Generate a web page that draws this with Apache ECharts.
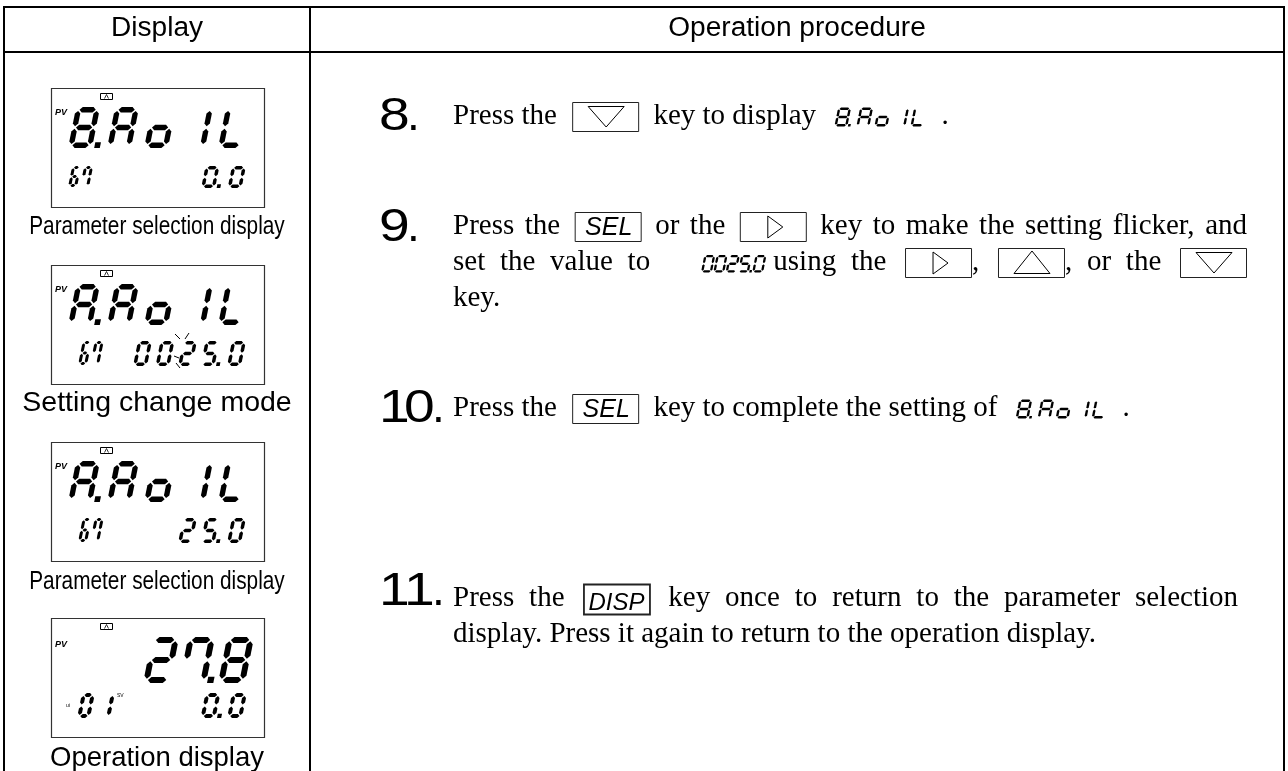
<!DOCTYPE html>
<html>
<head>
<meta charset="utf-8">
<title>Operation procedure</title>
<script src="https://cdn.jsdelivr.net/npm/echarts@6.0.0/dist/echarts.min.js"></script>
<style>
html,body{margin:0;padding:0;background:#fff;}
#main{width:1288px;height:771px;}
</style>
</head>
<body>
<div id="main"></div>
<script>
// ---------------- content ----------------
const headerLabels = ['Display', 'Operation procedure'];
const captionLabels = ['Parameter selection display', 'Setting change mode', 'Parameter selection display', 'Operation display'];
const lcdMainText = ['8.Ao1L', 'A.Ao1L', 'A.Ao1L', '27.8'];
const lcdSubText = ['67', '67', '67', '01'];
const lcdValueText = ['0.0', '0025.0', '25.0', '0.0'];
const stepNumbers = ['8.', '9.', '10.', '11.'];
const step8Lines = ['Press the [down] key to display <8.Ao1L> .'];
const step9Lines = ['Press the [SEL] or the [right] key to make the setting flicker, and',
                    'set the value to <0025.0> using the [right], [up], or the [down]',
                    'key.'];
const step10Lines = ['Press the [SEL] key to complete the setting of <8.Ao1L> .'];
const step11Lines = ['Press the [DISP] key once to return to the parameter selection',
                     'display. Press it again to return to the operation display.'];
const stepLines = [step8Lines, step9Lines, step10Lines, step11Lines];

// ---------------- layout / style ----------------
const SERIF = "'Liberation Serif', 'Times New Roman', serif";
const SANS = "'Liberation Sans', Arial, Helvetica, sans-serif";
const FS = 29;
const BLACK = '#000';
const G = [];

const mctx = document.createElement('canvas').getContext('2d');
function measure(s, size, family, italic) {
  mctx.font = (italic ? 'italic ' : '') + size + 'px ' + family;
  return mctx.measureText(s).width;
}
function addLine(x1, y1, x2, y2, lw, color) {
  G.push({ type: 'line', silent: true, shape: { x1, y1, x2, y2 }, style: { stroke: color || BLACK, lineWidth: lw || 1 } });
}
function addRect(x, y, w, h, lw, color) {
  G.push({ type: 'rect', silent: true, shape: { x, y, width: w, height: h }, style: { fill: null, stroke: color || BLACK, lineWidth: lw || 1 } });
}
function addPoly(points, fill) {
  G.push({ type: 'polygon', silent: true, shape: { points }, style: { fill: fill || BLACK } });
}
function addOutline(points, lw) {
  G.push({ type: 'polygon', silent: true, shape: { points }, style: { fill: null, stroke: BLACK, lineWidth: lw || 1 } });
}
function addText(s, x, baseline, size, family, opt) {
  opt = opt || {};
  const al = opt.align || 'left';
  G.push({
    type: 'text', silent: true, x: x, y: baseline - 0.31 * size, scaleX: opt.scaleX || 1, scaleY: 1,
    style: {
      text: s, x: 0, y: 0, fontSize: size, fontFamily: family,
      fontStyle: opt.italic ? 'italic' : 'normal', fontWeight: opt.bold ? 'bold' : 'normal',
      fill: opt.color || BLACK, textAlign: al, align: al, textVerticalAlign: 'middle', verticalAlign: 'middle'
    }
  });
}

// ---------------- seven segment renderer ----------------
const SEGMAP = { '0': 'abcdef', '1': 'bc', '2': 'abdeg', '5': 'acdfg', '6': 'acdefg', '7': 'abcf', '8': 'abcdefg', 'A': 'abcefg', 'o': 'cdeg', 'L': 'def' };
function segPolys(w, h, t) {
  const g = t * 0.22, L = t / 2, R = w - t / 2, T = t / 2, M = h / 2, B = h - t / 2, q = t / 2;
  const hs = (y, x1, x2) => [[x1, y], [x1 + q, y - q], [x2 - q, y - q], [x2, y], [x2 - q, y + q], [x1 + q, y + q]];
  const vs = (x, y1, y2) => [[x, y1], [x + q, y1 + q], [x + q, y2 - q], [x, y2], [x - q, y2 - q], [x - q, y1 + q]];
  return { a: hs(T, L + g, R - g), b: vs(R, T + g, M - g), c: vs(R, M + g, B - g), d: hs(B, L + g, R - g),
           e: vs(L, M + g, B - g), f: vs(L, T + g, M - g), g: hs(M, L + g, R - g) };
}
function drawLcd(str, o) {
  const segs = segPolys(o.w, o.h, o.t);
  const sl = o.sl == null ? 0.2 : o.sl;
  const tf = (cx, pts) => pts.map(([px, py]) => [cx + px + sl * (o.h - py), o.top + py]);
  let cx = o.x, prev = null;
  for (const ch of str) {
    if (ch === '.') {
      if (prev !== null) {
        const ds = o.t * 1.05, px = o.w + (o.dg != null ? o.dg : o.t * 0.4);
        addPoly(tf(prev, [[px, o.h - ds], [px + ds, o.h - ds], [px + ds, o.h], [px, o.h]]));
      }
      cx += o.dx || 0;
      continue;
    }
    const map = SEGMAP[ch] || '';
    for (const s of map) addPoly(tf(cx, segs[s]));
    prev = cx; cx += o.p;
  }
}
function lcdWidth(str, o) {
  let n = 0, d = 0;
  for (const ch of str) { if (ch === '.') d += (o.dx || 0); else n++; }
  return (n - 1) * o.p + d + o.w + (o.sl == null ? 0.2 : o.sl) * o.h;
}

// ---------------- table frame ----------------
addLine(3, 7, 1285, 7, 2);
addLine(3, 52, 1285, 52, 2);
addLine(4, 6, 4, 771, 2);
addLine(310, 6, 310, 771, 2);
addLine(1284, 6, 1284, 771, 2);
addText(headerLabels[0], 157, 37, 27, SANS, { align: 'center', scaleX: 1.04 });
addText(headerLabels[1], 797, 37, 27, SANS, { align: 'center', scaleX: 1.04 });

// ---------------- LCD panels ----------------
const panelTops = [88, 265, 442, 618];
function iconA(x, y) {
  addRect(x + 0.5, y + 0.5, 12, 6, 1);
  G.push({ type: 'polyline', silent: true, shape: { points: [[x + 4.5, y + 5.5], [x + 6.5, y + 1.5], [x + 8.5, y + 5.5]] }, style: { stroke: BLACK, lineWidth: 0.8, fill: null } });
}
panelTops.forEach((top, i) => {
  addRect(51.5, top + 0.5, 213, 119, 1.2, '#333');
  iconA(100, top + 5);
  if (i < 3) {
    addText('PV', 55, top + 27, 9, SANS, { italic: true, bold: true });
    const bigTop = top + 19, bigH = 41;
    drawLcd(lcdMainText[i], { x: 68, top: bigTop, h: bigH, w: 24, p: 37, t: 5.4, sl: 0.2, dx: 2 });
    const subTop = i === 0 ? top + 78 : top + 76;
    const subH = i === 0 ? 21 : 24;
    drawLcd(lcdSubText[i], { x: i === 0 ? 68 : 78, top: subTop, h: subH, w: 9, p: 12, t: 3, sl: 0.2 });
    const vo = { h: subH + 1, w: 14, p: 22.5, t: 3.5, sl: 0.2, dx: 4, dg: 1.5 };
    const vw = lcdWidth(lcdValueText[i], vo);
    drawLcd(lcdValueText[i], Object.assign({}, vo, { x: 246 - vw, top: subTop }));
  } else {
    addText('PV', 55, top + 29, 9, SANS, { italic: true, bold: true });
    drawLcd(lcdMainText[i], { x: 143, top: top + 19, h: 46, w: 27, p: 36, t: 6, sl: 0.2, dx: 3, dg: 1 });
    addText('ui', 66, top + 89, 5, SANS, {});
    addText('SV', 117, top + 79, 5, SANS, {});
    drawLcd(lcdSubText[i], { x: 77, top: top + 75, h: 25, w: 13, p: 20, t: 4, sl: 0.2 });
    const vo = { h: 25, w: 15, p: 22.5, t: 4, sl: 0.2, dx: 4, dg: 1.5 };
    const vw = lcdWidth(lcdValueText[i], vo);
    drawLcd(lcdValueText[i], Object.assign({}, vo, { x: 247 - vw, top: top + 75 }));
  }
});
// flicker marks around the edited digit (panel 2)
[[175, 334, 180, 339], [189, 333, 185, 339], [174, 356, 179, 358], [176, 363, 180, 368]].forEach(s => addLine(s[0], s[1], s[2], s[3], 1));

// captions
addText(captionLabels[0], 157, 235, 26, SANS, { align: 'center', scaleX: 0.8 });
addText(captionLabels[1], 157, 412, 28.5, SANS, { align: 'center' });
addText(captionLabels[2], 157, 590, 26, SANS, { align: 'center', scaleX: 0.8 });
addText(captionLabels[3], 157, 767, 27.5, SANS, { align: 'center' });

// ---------------- procedure column ----------------
const KEY_W = 66, KEY_H = 29;
function drawKey(name, bx, by) {
  if (name === 'DISP') {
    addRect(bx + 0.5, by + 0.5, KEY_W, KEY_H + 1, 1.8, '#222');
    addText('DISP', bx + KEY_W / 2, by + 27, 24, SANS, { italic: true, align: 'center' });
    return;
  }
  addRect(bx + 0.5, by + 0.5, KEY_W, KEY_H, 1, '#222');
  if (name === 'SEL') addText('SEL', bx + KEY_W / 2 + 1, by + 24, 25, SANS, { italic: true, align: 'center' });
  else if (name === 'down') addOutline([[bx + 16, by + 4.5], [bx + 52, by + 4.5], [bx + 34, by + 25]]);
  else if (name === 'up') addOutline([[bx + 34, by + 3], [bx + 52, by + 25.5], [bx + 16, by + 25.5]]);
  else if (name === 'right') addOutline([[bx + 28, by + 4], [bx + 43, by + 15], [bx + 28, by + 26]]);
}
function inlineLcdStyle(s) {
  return s.length === 6 && s.indexOf('.') === 4
    ? { h: 17.5, w: 11, p: 12.3, t: 2.3, sl: 0.2, dx: 2, dg: 0.4, ml: 36, mr: -8 }
    : { h: 19, w: 13, p: 18, t: 2.4, sl: 0.2, dx: 4, dg: 0.5, ml: 11, mr: 7 };
}
function layoutLine(str, x0, base, xEnd) {
  const km = xEnd ? 4 : 8;
  const items = [];
  for (const tok of str.split(' ')) {
    let m;
    if ((m = tok.match(/^\[(\w+)\](.*)$/))) {
      items.push({ k: 'key', name: m[1], w: KEY_W, ml: km, mr: km });
      if (m[2]) items.push({ k: 'word', s: m[2], tight: true });
    } else if ((m = tok.match(/^<(.+)>(.*)$/))) {
      const o = inlineLcdStyle(m[1]);
      items.push({ k: 'lcd', s: m[1], o: o, w: lcdWidth(m[1], o), ml: o.ml, mr: o.mr });
      if (m[2]) items.push({ k: 'word', s: m[2], tight: true });
    } else items.push({ k: 'word', s: tok });
  }
  items.forEach(it => { if (it.k === 'word') it.w = measure(it.s, FS, SERIF); it.ml = it.ml || 0; it.mr = it.mr || 0; });
  let fixed = 0, nGaps = 0;
  items.forEach((it, i) => {
    fixed += it.w;
    if (i > 0) { if (it.tight) fixed += 1; else { nGaps++; fixed += items[i - 1].mr + it.ml; } }
  });
  const sp = xEnd ? (xEnd - x0 - fixed) / nGaps : measure(' ', FS, SERIF);
  let x = x0;
  items.forEach((it, i) => {
    if (i > 0) { if (it.tight) x += 1; else x += sp + items[i - 1].mr + it.ml; }
    if (it.k === 'word') addText(it.s, x, base, FS, SERIF);
    else if (it.k === 'key') drawKey(it.name, x, base - 23);
    else drawLcd(it.s, Object.assign({}, it.o, { x: x, top: base + 1.5 - it.o.h }));
    x += it.w;
  });
}
// step numbers: wide sans digits, tight pitch, dot close to last digit
function drawStepNumber(n, baseline) {
  const digits = n.replace('.', '');
  let x = 379, last = x;
  for (const d of digits) { addText(d, x, baseline, 46, SANS, { scaleX: 1.2 }); last = x; x += 25; }
  addText('.', last + 28, baseline, 46, SANS);
}
const TEXT_X = 453;
const numberBaselines = [132, 243, 424, 607];
const lineBaselines = [[125], [235, 271, 307], [417], [607, 643]];
const lineJustifyEnd = [[null], [1247, 1246, null], [null], [1238, null]];
stepNumbers.forEach((n, i) => {
  drawStepNumber(n, numberBaselines[i]);
  stepLines[i].forEach((ln, j) => layoutLine(ln, TEXT_X, lineBaselines[i][j], lineJustifyEnd[i][j]));
});

// ---------------- render ----------------
const chart = echarts.init(document.getElementById('main'), null, { renderer: 'canvas', width: 1288, height: 771 });
chart.setOption({ backgroundColor: '#fff', animation: false, graphic: { elements: G } });
</script>
</body>
</html>
